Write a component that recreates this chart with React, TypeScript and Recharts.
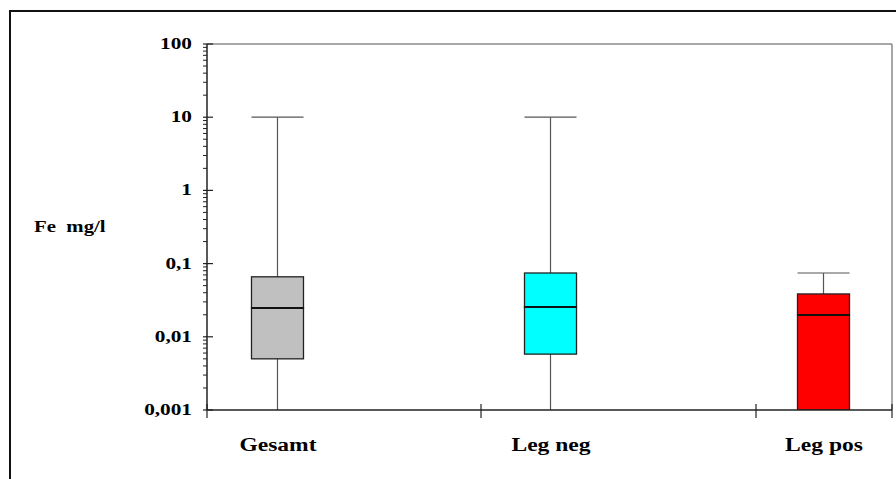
import React from 'react';
import { ComposedChart, Bar, XAxis, YAxis, ReferenceLine } from 'recharts';

// Box plot of Fe concentration (mg/l) per group, logarithmic axis
const categories = ['Gesamt', 'Leg neg', 'Leg pos'];
const positions = [0, 1, 2];
const minValues = [0.001, 0.001, 0.001];
const q1Values = [0.005, 0.0058, 0.001];
const medianValues = [0.0247, 0.0255, 0.0199];
const q3Values = [0.066, 0.0744, 0.0385];
const maxValues = [10, 10, 0.0744];
const boxColors = ['#c0c0c0', '#00ffff', '#ff0000'];

// Major y ticks and their labels (German decimal comma)
const majorTicks = [0.001, 0.01, 0.1, 1, 10, 100];
const majorLabels = ['0,001', '0,01', '0,1', '1', '10', '100'];

// Minor ticks 2..9 within each decade
const yTicks: number[] = [];
for (let e = -3; e <= 1; e++) {
  for (let k = 1; k <= 9; k++) yTicks.push(Number((k * Math.pow(10, e)).toPrecision(3)));
}
yTicks.push(100);

// Category axis: tick marks between groups
const xDomain = [-0.2564, 2.2527];
const xTickMarks = [-0.2564, 0.7473, 1.7546, 2.2527];

const data = positions.map((p, i) => ({
  pos: p,
  name: categories[i],
  whisker: [minValues[i], maxValues[i]],
  lower: [q1Values[i], medianValues[i]],
  upper: [medianValues[i], q3Values[i]],
  color: boxColors[i],
}));

const FONT = "'Liberation Serif', 'Times New Roman', serif";
const AXIS = '#222';

// Bold serif text, widened horizontally
const WideText = (props: any) => {
  const { x, y, anchor, size, sx, children } = props;
  return (
    <text
      transform={`translate(${x},${y}) scale(${sx},1)`}
      x={0}
      y={0}
      textAnchor={anchor}
      fontFamily={FONT}
      fontWeight="bold"
      fontSize={size}
      fill="#000"
      style={{ whiteSpace: 'pre' }}
    >
      {children}
    </text>
  );
};

const YTick = (props: any) => {
  const { x, y, payload } = props;
  const v = payload.value;
  const idx = majorTicks.findIndex((m) => Math.abs(m - v) / m < 1e-6);
  if (idx < 0) {
    return <line x1={x - 4} x2={x} y1={y} y2={y} stroke={AXIS} strokeWidth={1} />;
  }
  return (
    <g>
      <line x1={x - 4} x2={x + 6} y1={y} y2={y} stroke={AXIS} strokeWidth={1.2} />
      <WideText x={x - 15} y={y + 5} anchor="end" size={16} sx={1.33}>
        {majorLabels[idx]}
      </WideText>
    </g>
  );
};

const XTick = (props: any) => {
  const { x, y, payload } = props;
  const v = payload.value;
  const ci = positions.indexOf(v);
  if (ci >= 0) {
    return (
      <WideText x={x + 1} y={y + 41} anchor="middle" size={19} sx={1.24}>
        {categories[ci]}
      </WideText>
    );
  }
  return <line x1={x} x2={x} y1={y - 6} y2={y + 8} stroke={AXIS} strokeWidth={1.2} />;
};

const WhiskerShape = (props: any) => {
  const { x, y, width, height } = props;
  const cx = x + width / 2;
  return (
    <g>
      <line x1={cx} x2={cx} y1={y} y2={y + height} stroke="#555" strokeWidth={1.2} />
      <line x1={x} x2={x + width} y1={y} y2={y} stroke="#555" strokeWidth={1.2} />
    </g>
  );
};

const LowerBox = (props: any) => {
  const { x, y, width, height, payload } = props;
  return (
    <rect x={x} y={y} width={width} height={height} fill={payload.color} stroke="#222" strokeWidth={1.3} />
  );
};

const UpperBox = (props: any) => {
  const { x, y, width, height, payload } = props;
  return (
    <g>
      <rect x={x} y={y} width={width} height={height} fill={payload.color} stroke="#222" strokeWidth={1.3} />
      <line x1={x} x2={x + width} y1={y + height} y2={y + height} stroke="#111" strokeWidth={2} />
    </g>
  );
};

export default function App() {
  const xTicks = [...xTickMarks, ...positions].sort((a, b) => a - b);
  return (
    <div
      style={{
        position: 'fixed',
        left: 0,
        top: 0,
        width: 896,
        height: 479,
        overflow: 'hidden',
        background: '#fff',
      }}
    >
      <div
        style={{
          position: 'absolute',
          left: 9,
          top: 10,
          width: 920,
          height: 520,
          border: '2px solid #111',
          boxSizing: 'border-box',
        }}
      />
      <div style={{ position: 'absolute', left: 0, top: 0 }}>
        <ComposedChart width={896} height={479} data={data} margin={{ top: 44, right: 4, bottom: 0, left: 0 }}>
          <XAxis
            xAxisId="main"
            type="number"
            dataKey="pos"
            domain={xDomain}
            allowDataOverflow
            ticks={xTicks}
            interval={0}
            tick={<XTick />}
            tickLine={false}
            tickSize={0}
            tickMargin={0}
            height={69}
            axisLine={{ stroke: AXIS, strokeWidth: 1.5 }}
          />
          <XAxis
            xAxisId="lowerAxis"
            type="number"
            dataKey="pos"
            domain={xDomain}
            allowDataOverflow
            orientation="top"
            height={0}
            hide
          />
          <XAxis
            xAxisId="upperAxis"
            type="number"
            dataKey="pos"
            domain={xDomain}
            allowDataOverflow
            orientation="top"
            height={0}
            hide
          />
          <YAxis
            type="number"
            scale="log"
            domain={[0.001, 100]}
            allowDataOverflow
            ticks={yTicks}
            interval={0}
            tick={<YTick />}
            tickLine={false}
            tickSize={0}
            tickMargin={0}
            width={207}
            axisLine={{ stroke: AXIS, strokeWidth: 1.5 }}
            label={{
              value: 'Fe  mg/l',
              content: (p: any) => {
                const vb = p.viewBox || { x: 0, y: 44, height: 366 };
                return (
                  <WideText x={vb.x + 34} y={vb.y + vb.height / 2 + 5} anchor="start" size={16} sx={1.3}>
                    {'Fe  mg/l'}
                  </WideText>
                );
              },
            }}
          />
          <ReferenceLine xAxisId="main" y={100} stroke="#8a8a8a" strokeWidth={1.5} />
          <ReferenceLine xAxisId="main" x={xDomain[1]} stroke="#8a8a8a" strokeWidth={1.5} />
          <Bar xAxisId="main" dataKey="whisker" barSize={52} shape={<WhiskerShape />} isAnimationActive={false} />
          <Bar xAxisId="lowerAxis" dataKey="lower" barSize={52} shape={<LowerBox />} isAnimationActive={false} />
          <Bar xAxisId="upperAxis" dataKey="upper" barSize={52} shape={<UpperBox />} isAnimationActive={false} />
        </ComposedChart>
      </div>
    </div>
  );
}
